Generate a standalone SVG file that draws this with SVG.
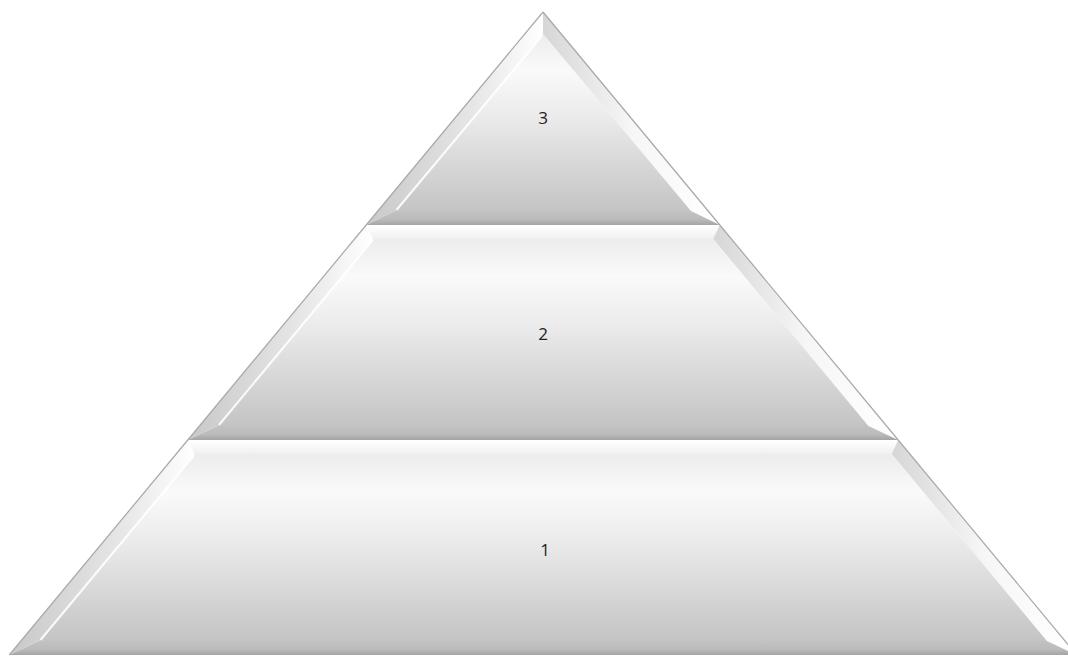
<svg xmlns="http://www.w3.org/2000/svg" width="1068" height="656" viewBox="0 0 1068 656">
  <defs>
    <linearGradient id="face" x1="0" y1="0" x2="0" y2="1">
      <stop offset="0" stop-color="#ececec"/>
      <stop offset="0.2" stop-color="#fafafa"/>
      <stop offset="0.45" stop-color="#ececec"/>
      <stop offset="1" stop-color="#c4c4c4"/>
    </linearGradient>
    <linearGradient id="bevL" x1="0" y1="0" x2="1" y2="0">
      <stop offset="0" stop-color="#c8c8c8"/>
      <stop offset="0.6" stop-color="#e6e6e6"/>
      <stop offset="1" stop-color="#ffffff"/>
    </linearGradient>
    <linearGradient id="bevR" x1="0" y1="0" x2="1" y2="0">
      <stop offset="0" stop-color="#d6d6d6"/>
      <stop offset="0.5" stop-color="#f6f6f6"/>
      <stop offset="1" stop-color="#ffffff"/>
    </linearGradient>
    <linearGradient id="bevB" x1="0" y1="0" x2="0" y2="1">
      <stop offset="0" stop-color="#c2c2c2"/>
      <stop offset="0.6" stop-color="#bbbbbb"/>
      <stop offset="1" stop-color="#a4a4a4"/>
    </linearGradient>
    <linearGradient id="bevT" x1="0" y1="0" x2="0" y2="1">
      <stop offset="0" stop-color="#ffffff"/>
      <stop offset="1" stop-color="#f0f0f0"/>
    </linearGradient>
    <style>
      .face{fill:url(#face);}
      .bl{fill:url(#bevL);}
      .br{fill:url(#bevR);}
      .bb{fill:url(#bevB);}
      .bt{fill:url(#bevT);}
      .edge{fill:none;stroke:#a8a8a8;stroke-width:1.2;}
      .hl{fill:none;stroke:#ffffff;stroke-width:2;opacity:0.9;}
      .lbl{font-family:"Open Sans","Liberation Sans",sans-serif;font-size:17px;fill:#222222;text-anchor:middle;}
    </style>
  </defs>

  <g id="tier1">
    <polygon class="bt" points="187.8,440 898.2,440 891.7,454 194.3,454"/>
    <polygon class="bl" points="187.8,440 194.3,454 39.1,641 9.3,655"/>
    <polygon class="br" points="898.2,440 1076.7,655 1046.9,641 891.7,454"/>
    <polygon class="bb" points="39.1,641 1046.9,641 1076.7,655 9.3,655"/>
    <polygon class="face" points="194.3,454 891.7,454 1046.9,641 39.1,641"/>
    <polyline class="hl" points="194.3,455 40.5,640"/>
    <polyline class="edge" points="187.8,440 9.3,655"/>
    <polyline class="edge" points="898.2,440 1076.7,655"/>
    <text class="lbl" x="545" y="556">1</text>
  </g>

  <g id="tier2">
    <polygon class="bt" points="366.2,225 719.8,225 713.2,239 372.8,239"/>
    <polygon class="bl" points="366.2,225 372.8,239 217.6,426 187.8,440"/>
    <polygon class="br" points="719.8,225 898.2,440 868.4,426 713.2,239"/>
    <polygon class="bb" points="217.6,426 868.4,426 898.2,440 187.8,440"/>
    <polygon class="face" points="372.8,239 713.2,239 868.4,426 217.6,426"/>
    <polyline class="hl" points="372.8,240 219,425"/>
    <polyline class="edge" points="366.2,225 187.8,440"/>
    <polyline class="edge" points="719.8,225 898.2,440"/>
    <text class="lbl" x="543" y="340">2</text>
  </g>

  <g id="tier3">
    <polygon class="bl" points="543,12 543,34 395,211 366.2,225"/>
    <polygon class="br" points="543,12 719.8,225 691,211 543,34"/>
    <polygon class="bb" points="395,211 691,211 719.8,225 366.2,225"/>
    <polygon class="face" points="543,34 691,211 395,211"/>
    <polyline class="hl" points="542,36 396.5,210"/>
    <polyline class="edge" points="543,12 366.2,225"/>
    <polyline class="edge" points="543,12 719.8,225"/>
    <text class="lbl" x="543" y="124">3</text>
  </g>
</svg>
